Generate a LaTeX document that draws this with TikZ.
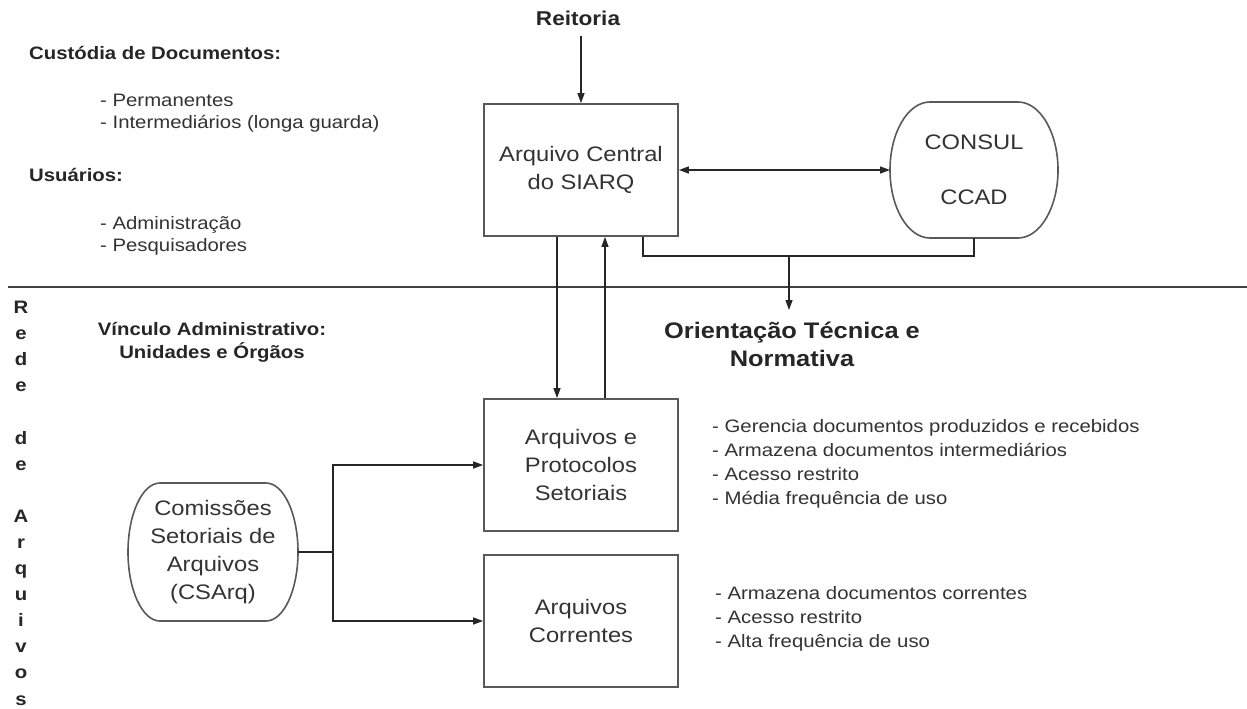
\documentclass[tikz,border=0pt]{standalone}
\usepackage{fontspec}
\setmainfont[FakeStretch=1.13]{Liberation Sans}
\usetikzlibrary{arrows.meta,calc}
\tikzset{
  conn/.style={draw=black!85, line width=1.3pt},
  arr/.style={conn, -{Triangle[length=10pt,width=7pt]}},
  darr/.style={conn, {Triangle[length=10pt,width=7pt]}-{Triangle[length=10pt,width=7pt]}},
  boxn/.style={draw=black!65, line width=1.8pt, minimum width=194pt, minimum height=132pt,
    align=center, font=\fontsize{21}{27.8}\selectfont, text=black!80, inner sep=0pt},
  blob/.style={align=center, font=\fontsize{21}{28}\selectfont, text=black!80, inner sep=0pt, outer sep=0pt},
  stadline/.style={draw=black!65, line width=1.6pt},
  hd/.style={font=\bfseries\fontsize{18}{23}\selectfont, text=black!85, inner sep=0pt, align=center},
  ttl/.style={font=\bfseries\fontsize{20}{24}\selectfont, text=black!85, inner sep=0pt},
  orient/.style={font=\bfseries\fontsize{22.5}{28}\selectfont, text=black!85, inner sep=0pt, align=center},
  lst/.style={font=\fontsize{18}{22}\selectfont, text=black!80, inner sep=0pt, align=left, anchor=west},
  lstb/.style={lst, font=\fontsize{18}{24}\selectfont},
  vl/.style={font=\bfseries\fontsize{18}{22}\selectfont, text=black!85, inner sep=0pt, anchor=base},
  sepl/.style={draw=black!75, line width=1.5pt}
}
\newcommand\stadiumshape[2]{%
  \draw[stadline] let \p1=(#1.north west), \p2=(#1.south east), \n1={(\y1-\y2)/2} in
    (\x1+#2,\y1) -- (\x2-#2,\y1)
    arc[start angle=90,end angle=-90,x radius=#2,y radius=\n1]
    -- (\x1+#2,\y2)
    arc[start angle=270,end angle=90,x radius=#2,y radius=\n1] -- cycle;}
\begin{document}
\begin{tikzpicture}[x=1pt,y=1pt]
\useasboundingbox (0,0) rectangle (1247,-709);
\fill[white] (0,0) rectangle (1247,-709);

% separator
\coordinate (sl) at (8,-287);
\coordinate (sr) at (1247,-287);
\draw[sepl] (sl) -- (sr);

% top-left texts
\node[hd, anchor=west] (cust) at (29,-53) {Custódia de Documentos:};
\node[lst] (l1) at (100,-113) {- Permanentes\\- Intermediários (longa guarda)};
\node[hd, anchor=west] (usu) at (29,-175) {Usuários:};
\node[lst] (l2) at (100,-235.5) {- Administração\\- Pesquisadores};

% main nodes
\node[ttl] (rei) at (578,-18) {Reitoria};
\node[boxn] (ac) at (581,-170) {Arquivo Central\\do SIARQ};
\node[blob, minimum width=168pt, minimum height=136pt] (cons) at (974,-170) {CONSUL\\[27pt]CCAD};
\stadiumshape{cons}{40pt}
\node[orient] (ori) at (792,-344) {Orientação Técnica e\\Normativa};
\node[hd] (vin) at (212,-342) {Vínculo Administrativo:\\Unidades e Órgãos};
\node[boxn] (aps) at (581,-465) {Arquivos e\\Protocolos\\Setoriais};
\node[boxn] (acr) at (581,-621) {Arquivos\\Correntes};
\node[blob, minimum width=170pt, minimum height=138pt] (csa) at (213,-552) {Comissões\\Setoriais de\\Arquivos\\(CSArq)};
\stadiumshape{csa}{32pt}

% right lists
\node[lstb] (d1) at (712,-464) {- Gerencia documentos produzidos e recebidos\\- Armazena documentos intermediários\\- Acesso restrito\\- Média frequência de uso};
\node[lstb] (d2) at (715,-619) {- Armazena documentos correntes\\- Acesso restrito\\- Alta frequência de uso};

% vertical label
\foreach \c [count=\i from 0] in {R,e,d,e,{},d,e,{},A,r,q,u,i,v,o,s}
  \node[vl] (v\i) at (21,-313.5-26.1*\i) {\c};

% connectors
\coordinate (reiarr) at ($(rei.south -| ac.north)+(0,-10)$);
\draw[arr] (reiarr) -- (ac.north);
\draw[darr] (ac.east) -- (cons.west);
\draw[arr] ([xshift=-24pt]ac.south) -- ([xshift=-24pt]aps.north);
\draw[arr] ([xshift=24pt]aps.north) -- ([xshift=24pt]ac.south);
\draw[conn] ([xshift=62pt]ac.south) -- ++(0,-19) -| (cons.south);
\coordinate (oj) at (789,-255);
\coordinate (ot) at (789,-310);
\draw[arr] (oj) -- (ot);
\coordinate (jc) at (333,-552);
\draw[conn] (csa.east) -- (jc);
\draw[arr] (jc) |- (aps.west);
\draw[arr] (jc) |- (acr.west);
\end{tikzpicture}
\end{document}
